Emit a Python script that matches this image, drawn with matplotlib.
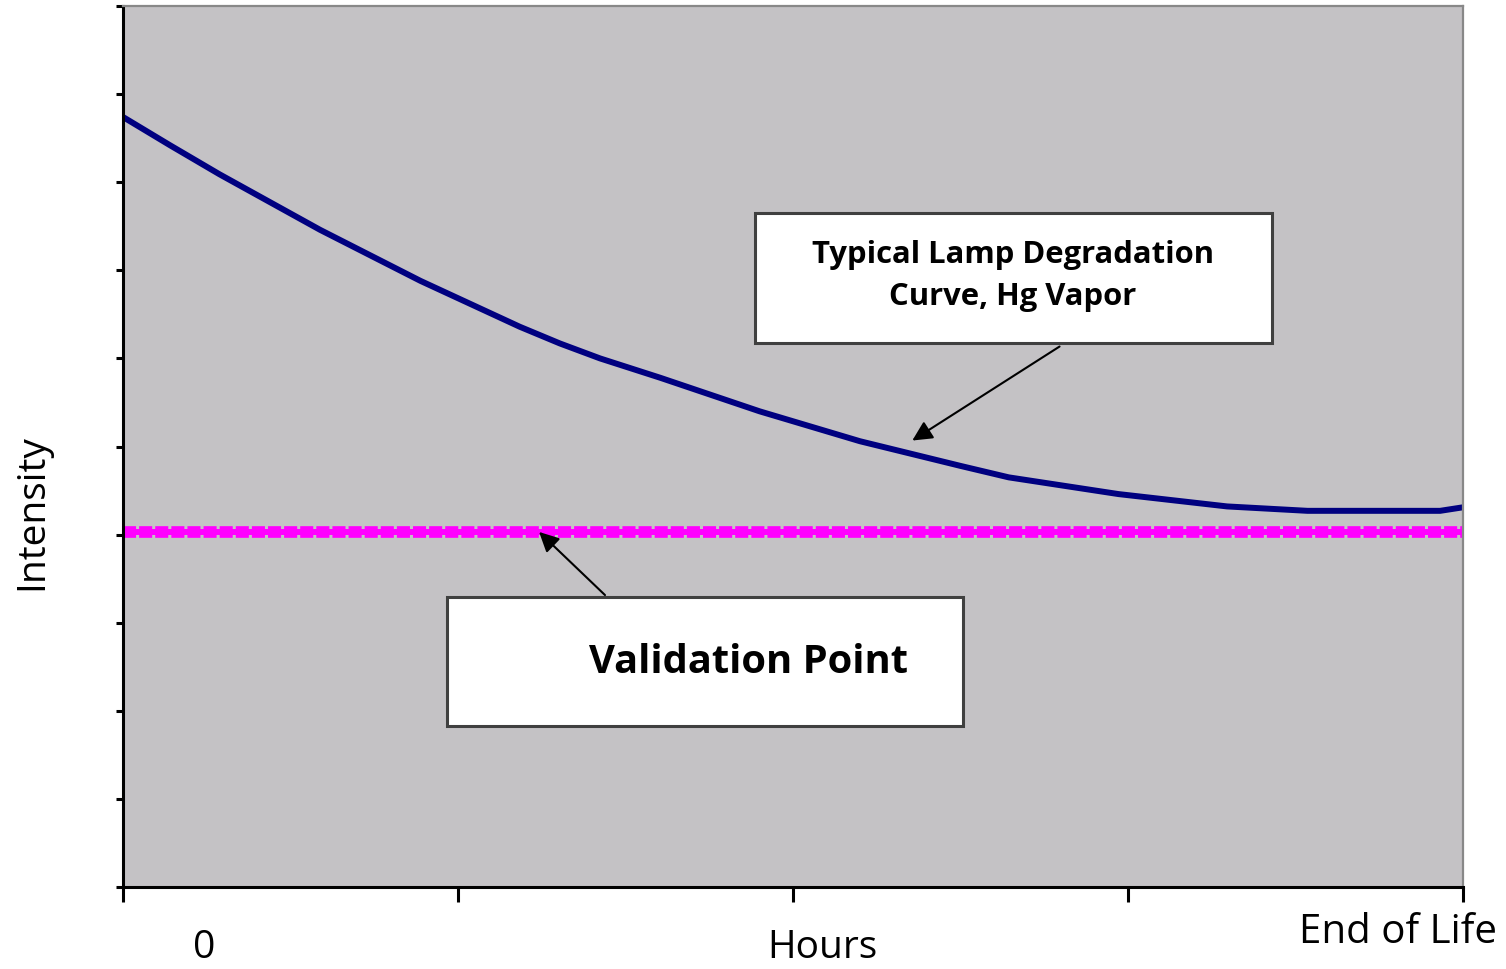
import matplotlib
matplotlib.use("Agg")
import matplotlib.pyplot as plt
from matplotlib.patches import Rectangle

plt.rcParams['font.family'] = ['Open Sans', 'DejaVu Sans']
plt.rcParams['lines.scale_dashes'] = False

# Lamp degradation curve (x: % of life, y: intensity)
hours = [0, 3.5, 7.2, 14.7, 22.2, 29.6, 32.6, 35.6, 40.1, 47.5, 55.0, 62.5, 66.1, 74.3, 82.4, 88.4, 98.3, 100]
intensity = [87.4, 84.2, 80.9, 74.6, 68.8, 63.6, 61.7, 60.0, 57.8, 54.0, 50.6, 47.8, 46.5, 44.6, 43.2, 42.7, 42.7, 43.1]

# Validation level
validation_level = 40.3

fig = plt.figure(figsize=(15.06, 9.69), dpi=100)
ax = fig.add_axes([0.0817, 0.0846, 0.8897, 0.9092])
ax.set_facecolor('#C4C2C5')

ax.plot(hours, intensity, color='#000080', lw=4.3, solid_capstyle='butt')
# magenta line: dashed halo + solid core to get the ragged look
ax.axhline(validation_level, color='#FF00FF', lw=8.4, linestyle=(0, (9.4, 2.2)))
ax.axhline(validation_level, color='#FF00FF', lw=4.3)

ax.set_xlim(0, 100)
ax.set_ylim(0, 100)
ax.set_xticks(range(0, 101, 25))
ax.set_yticks(range(0, 101, 10))
ax.set_xticklabels([])
ax.set_yticklabels([])
ax.tick_params(axis='y', length=5, width=2.2, color='black')
ax.tick_params(axis='x', length=11, width=2.2, color='black')

for side in ['left', 'bottom']:
    ax.spines[side].set_linewidth(2.2)
    ax.spines[side].set_color('black')
for side in ['top', 'right']:
    ax.spines[side].set_linewidth(1.6)
    ax.spines[side].set_color('#888888')

# axis texts
fig.text(0.1355, 0.0217, '0', fontsize=28, ha='center', va='center')
fig.text(0.5458, 0.0217, 'Hours', fontsize=28, ha='center', va='center')
fig.text(0.928, 0.037, 'End of Life', fontsize=29, ha='center', va='center')
fig.text(0.0212, 0.472, 'Intensity', fontsize=28, rotation=90, ha='center', va='center')

# callout boxes
box1 = Rectangle((0.4716, 0.6175), 0.3859, 0.1475, transform=ax.transAxes,
                 facecolor='white', edgecolor='#404040', lw=2.2, zorder=5)
box2 = Rectangle((0.2418, 0.1827), 0.3851, 0.1465, transform=ax.transAxes,
                 facecolor='white', edgecolor='#404040', lw=2.2, zorder=5)
ax.add_patch(box1)
ax.add_patch(box2)

ax.text(0.664, 0.6935, 'Typical Lamp Degradation\nCurve, Hg Vapor', transform=ax.transAxes,
        fontsize=22.3, fontweight='bold', ha='center', va='center', linespacing=1.5, zorder=6)
ax.text(0.467, 0.2545, 'Validation Point', transform=ax.transAxes,
        fontsize=28.7, fontweight='bold', ha='center', va='center', zorder=6)

ax.annotate('', xy=(0.5873, 0.5051), xytext=(0.7007, 0.6152),
            xycoords='axes fraction', textcoords='axes fraction',
            arrowprops=dict(arrowstyle='-|>', color='black', lw=1.5, mutation_scale=30))
ax.annotate('', xy=(0.309, 0.4052), xytext=(0.3612, 0.3292),
            xycoords='axes fraction', textcoords='axes fraction',
            arrowprops=dict(arrowstyle='-|>', color='black', lw=1.5, mutation_scale=30))

fig.savefig('out.png', dpi=100)
